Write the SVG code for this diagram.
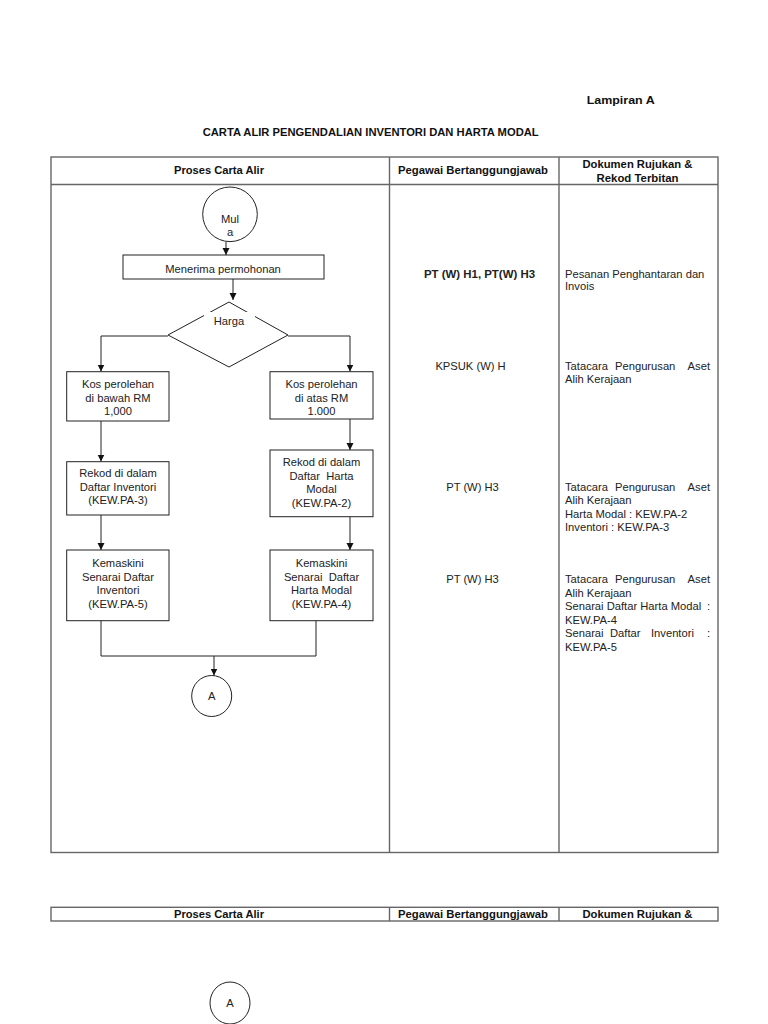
<svg xmlns="http://www.w3.org/2000/svg" width="768" height="1024" viewBox="0 0 768 1024">
<style>
.tbl{fill:none;stroke:#666;stroke-width:1.4}
.shape{fill:#fff;stroke:#222;stroke-width:1}
.line{fill:none;stroke:#222;stroke-width:1}
.hd{font-family:"Liberation Sans Narrow","Liberation Sans",Arial,sans-serif;font-weight:bold;font-size:11.5px;fill:#111}
.t{font-family:"Liberation Sans",Arial,sans-serif;font-size:11.2px;fill:#222}
.c{text-anchor:middle}
.e{text-anchor:end}
.b{font-weight:bold}
</style>
<defs>
<marker id="ah" markerWidth="8" markerHeight="8" refX="7" refY="4" orient="auto" markerUnits="userSpaceOnUse">
<path d="M0,0.5 L7,4 L0,7.5 Z" fill="#111"/>
</marker>
</defs>
<rect width="768" height="1024" fill="#fff"/>

<text class="hd" x="586.7" y="104.3" font-size="13" textLength="68" lengthAdjust="spacingAndGlyphs">Lampiran A</text>
<text class="hd" x="202.7" y="135.7" textLength="336" lengthAdjust="spacingAndGlyphs">CARTA ALIR PENGENDALIAN INVENTORI DAN HARTA MODAL</text>

<g id="table1">
<rect class="tbl" x="51" y="157" width="667" height="695.5"/>
<line class="tbl" x1="51" y1="184.5" x2="718" y2="184.5"/>
<line class="tbl" x1="389.5" y1="157" x2="389.5" y2="852.5"/>
<line class="tbl" x1="559" y1="157" x2="559" y2="852.5"/>
<text class="hd c" x="219" y="174.3" textLength="90" lengthAdjust="spacingAndGlyphs">Proses Carta Alir</text>
<text class="hd c" x="473" y="174.3" textLength="150" lengthAdjust="spacingAndGlyphs">Pegawai Bertanggungjawab</text>
<text class="hd c" x="637.5" y="168.3" textLength="110" lengthAdjust="spacingAndGlyphs">Dokumen Rujukan &amp;</text>
<text class="hd c" x="637.5" y="181.7" textLength="82" lengthAdjust="spacingAndGlyphs">Rekod Terbitan</text>
</g>

<g id="connectors">
<line class="line" x1="226" y1="242" x2="226" y2="255" marker-end="url(#ah)"/>
<line class="line" x1="233" y1="279" x2="233" y2="300" marker-end="url(#ah)"/>
<polyline class="line" points="168,336 101,336 101,371.5" marker-end="url(#ah)"/>
<polyline class="line" points="288,336 350,336 350,371.5" marker-end="url(#ah)"/>
<line class="line" x1="101" y1="421" x2="101" y2="461.5" marker-end="url(#ah)"/>
<line class="line" x1="350" y1="419" x2="350" y2="450" marker-end="url(#ah)"/>
<line class="line" x1="101" y1="515" x2="101" y2="550" marker-end="url(#ah)"/>
<line class="line" x1="350" y1="516.5" x2="350" y2="550" marker-end="url(#ah)"/>
<polyline class="line" points="101,620.5 101,656 316,656 316,620.5"/>
<line class="line" x1="214" y1="656" x2="214" y2="675.5" marker-end="url(#ah)"/>
</g>

<g id="mula">
<circle class="shape" cx="230" cy="214.3" r="27.3"/>
<text class="t c" x="230" y="222.5">Mul</text>
<text class="t c" x="230" y="236">a</text>
</g>

<g id="menerima">
<rect class="shape" x="123" y="255" width="201" height="24"/>
<text class="t c" x="223" y="272.5">Menerima permohonan</text>
</g>

<g id="harga">
<polygon class="shape" points="229,302 288,335 229,367 168,335"/>
<rect x="204" y="312" width="51" height="17" fill="#fff"/>
<text class="t c" x="229" y="324.5">Harga</text>
</g>

<g id="kos-bawah">
<rect class="shape" x="66.7" y="371.7" width="102.3" height="49.3"/>
<text class="t c" x="118" y="388">Kos perolehan</text>
<text class="t c" x="118" y="401.5">di bawah RM</text>
<text class="t c" x="118" y="415">1,000</text>
</g>

<g id="kos-atas">
<rect class="shape" x="270" y="371.7" width="103" height="47.3"/>
<text class="t c" x="321.5" y="388">Kos perolehan</text>
<text class="t c" x="321.5" y="401.5">di atas RM</text>
<text class="t c" x="321.5" y="415">1.000</text>
</g>

<g id="rekod-inventori">
<rect class="shape" x="66.7" y="461.7" width="102.3" height="53.3"/>
<text class="t c" x="118" y="477">Rekod di dalam</text>
<text class="t c" x="118" y="490.5">Daftar Inventori</text>
<text class="t c" x="118" y="504">(KEW.PA-3)</text>
</g>

<g id="rekod-harta">
<rect class="shape" x="270" y="450" width="103" height="66.7"/>
<text class="t c" x="321.5" y="466">Rekod di dalam</text>
<text class="t c" x="321.5" y="479.5" xml:space="preserve">Daftar  Harta</text>
<text class="t c" x="321.5" y="493">Modal</text>
<text class="t c" x="321.5" y="506.5">(KEW.PA-2)</text>
</g>

<g id="kemaskini-inventori">
<rect class="shape" x="66.7" y="550" width="102.3" height="70.7"/>
<text class="t c" x="118" y="567">Kemaskini</text>
<text class="t c" x="118" y="580.5">Senarai Daftar</text>
<text class="t c" x="118" y="594">Inventori</text>
<text class="t c" x="118" y="607.5">(KEW.PA-5)</text>
</g>

<g id="kemaskini-harta">
<rect class="shape" x="270" y="550" width="103" height="70.7"/>
<text class="t c" x="321.5" y="567">Kemaskini</text>
<text class="t c" x="321.5" y="580.5" xml:space="preserve">Senarai  Daftar</text>
<text class="t c" x="321.5" y="594">Harta Modal</text>
<text class="t c" x="321.5" y="607.5">(KEW.PA-4)</text>
</g>

<g id="connector-a1">
<ellipse class="shape" cx="211.7" cy="696" rx="20" ry="20.5"/>
<text class="t c" x="211.7" y="700">A</text>
</g>

<g id="pegawai">
<text class="t c b" x="479.5" y="277.5" textLength="111" lengthAdjust="spacingAndGlyphs">PT (W) H1, PT(W) H3</text>
<text class="t c" x="470.5" y="370">KPSUK (W) H</text>
<text class="t c" x="472.5" y="491">PT (W) H3</text>
<text class="t c" x="472.5" y="583">PT (W) H3</text>
</g>

<g id="dokumen">
<text class="t" x="565" y="278">Pesanan Penghantaran dan</text>
<text class="t" x="565" y="290">Invois</text>

<text class="t" y="370"><tspan x="565">Tatacara</tspan><tspan x="615">Pengurusan</tspan></text>
<text class="t e" x="710" y="370">Aset</text>
<text class="t" x="565" y="383">Alih Kerajaan</text>

<text class="t" y="491"><tspan x="565">Tatacara</tspan><tspan x="615">Pengurusan</tspan></text>
<text class="t e" x="710" y="491">Aset</text>
<text class="t" x="565" y="504">Alih Kerajaan</text>
<text class="t" x="565" y="517.5">Harta Modal : KEW.PA-2</text>
<text class="t" x="565" y="531">Inventori : KEW.PA-3</text>

<text class="t" y="583"><tspan x="565">Tatacara</tspan><tspan x="615">Pengurusan</tspan></text>
<text class="t e" x="710" y="583">Aset</text>
<text class="t" x="565" y="596.5">Alih Kerajaan</text>
<text class="t" x="565" y="610">Senarai Daftar Harta Modal</text>
<text class="t e" x="710" y="610">:</text>
<text class="t" x="565" y="623.5">KEW.PA-4</text>
<text class="t" y="637"><tspan x="565">Senarai</tspan><tspan x="610">Daftar</tspan><tspan x="651">Inventori</tspan></text>
<text class="t e" x="710" y="637">:</text>
<text class="t" x="565" y="650.5">KEW.PA-5</text>
</g>

<g id="table2">
<rect class="tbl" x="51" y="907.3" width="667" height="13.7"/>
<line class="tbl" x1="389.5" y1="907.3" x2="389.5" y2="921"/>
<line class="tbl" x1="559" y1="907.3" x2="559" y2="921"/>
<text class="hd c" x="219" y="918.3" textLength="90" lengthAdjust="spacingAndGlyphs">Proses Carta Alir</text>
<text class="hd c" x="473" y="918.3" textLength="150" lengthAdjust="spacingAndGlyphs">Pegawai Bertanggungjawab</text>
<text class="hd c" x="637.5" y="918.3" textLength="110" lengthAdjust="spacingAndGlyphs">Dokumen Rujukan &amp;</text>
</g>

<g id="connector-a2">
<ellipse class="shape" cx="230" cy="1003" rx="20" ry="21"/>
<text class="t c" x="230" y="1007">A</text>
</g>
</svg>
